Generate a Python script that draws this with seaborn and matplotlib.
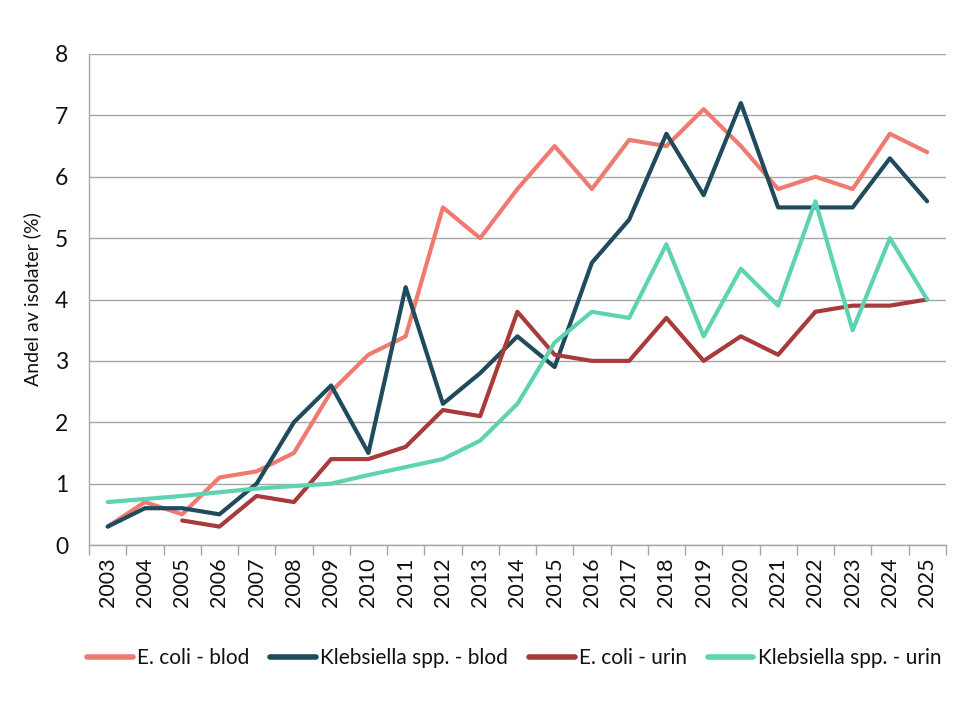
import numpy as np
import pandas as pd
import matplotlib
matplotlib.use("Agg")
import matplotlib.pyplot as plt
import seaborn as sns

years = list(range(2003, 2026))

ecoli_blod = [0.3, 0.7, 0.5, 1.1, 1.2, 1.5, 2.5, 3.1, 3.4, 5.5, 5.0, 5.8,
              6.5, 5.8, 6.6, 6.5, 7.1, 6.5, 5.8, 6.0, 5.8, 6.7, 6.4]
kleb_blod = [0.3, 0.6, 0.6, 0.5, 1.0, 2.0, 2.6, 1.5, 4.2, 2.3, 2.8, 3.4,
             2.9, 4.6, 5.3, 6.7, 5.7, 7.2, 5.5, 5.5, 5.5, 6.3, 5.6]
ecoli_urin = [np.nan, np.nan, 0.4, 0.3, 0.8, 0.7, 1.4, 1.4, 1.6, 2.2, 2.1, 3.8,
              3.1, 3.0, 3.0, 3.7, 3.0, 3.4, 3.1, 3.8, 3.9, 3.9, 4.0]
kleb_urin = [0.7, 0.75, 0.8, 0.86, 0.92, 0.96, 1.0, 1.14, 1.27, 1.4, 1.7, 2.3,
             3.3, 3.8, 3.7, 4.9, 3.4, 4.5, 3.9, 5.6, 3.5, 5.0, 4.0]

series_names = ["E. coli - blod", "Klebsiella spp. - blod",
                "E. coli - urin", "Klebsiella spp. - urin"]
colors = ["#EE7A70", "#1F4B5C", "#A83B3A", "#5ED3B2"]

frames = []
for name, vals in zip(series_names, [ecoli_blod, kleb_blod, ecoli_urin, kleb_urin]):
    frames.append(pd.DataFrame({"year": years, "value": vals, "serie": name}))
df = pd.concat(frames).dropna()

sns.set_style("white")
plt.rcParams["font.family"] = ["Lato", "DejaVu Sans"]
plt.rcParams["text.color"] = "#111111"
plt.rcParams["axes.labelcolor"] = "#111111"
plt.rcParams["xtick.labelcolor"] = "#111111"
plt.rcParams["ytick.labelcolor"] = "#111111"

fig = plt.figure(figsize=(9.7, 7.01), dpi=100)
ax = fig.add_axes([0.0918, 0.2225, 0.8832, 0.7005])

sns.lineplot(data=df, x="year", y="value", hue="serie", hue_order=series_names,
             palette=colors, linewidth=3.0, ax=ax, legend=True)

ax.set_xlim(2002.5, 2025.5)
ax.set_ylim(0, 8)
ax.set_yticks(range(0, 9))
ax.set_xticks(years)
ax.set_xticklabels([str(y) for y in years], rotation=90)
ax.set_xticks(np.arange(2002.5, 2026, 1.0), minor=True)

grid_col = "#A6A6A6"
ax.yaxis.grid(True, color=grid_col, linewidth=1.0)
ax.set_axisbelow(True)
for side in ["top", "right"]:
    ax.spines[side].set_visible(False)
for side in ["left", "bottom"]:
    ax.spines[side].set_color(grid_col)
    ax.spines[side].set_linewidth(1.0)

ax.tick_params(axis="y", which="major", length=8, color=grid_col, width=1.0,
               labelsize=16.5, pad=7)
ax.tick_params(axis="x", which="major", length=0, labelsize=15.5, pad=9)
ax.tick_params(axis="x", which="minor", length=7, color=grid_col, width=1.0,
               direction="out", bottom=True)

ax.set_xlabel("")
ax.set_ylabel("Andel av isolater (%)", fontsize=14, labelpad=10)

handles, labels = ax.get_legend_handles_labels()
ax.legend(handles, labels, loc="center", bbox_to_anchor=(0.496, -0.23), ncol=4,
          frameon=False, fontsize=15, handlelength=2.2, handletextpad=0.2,
          columnspacing=1.0)
for h in ax.get_legend().get_lines():
    h.set_linewidth(4)

fig.savefig("out.png", dpi=100)
